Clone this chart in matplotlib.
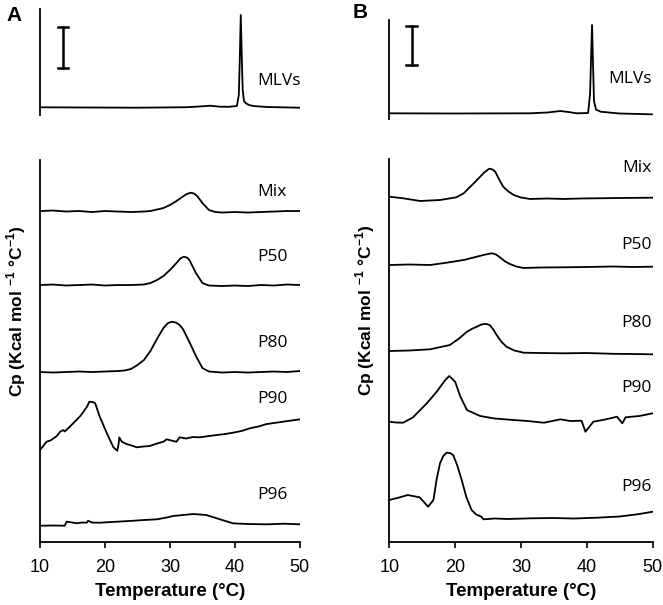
import matplotlib.pyplot as plt

plt.rcParams['font.family'] = ['Liberation Sans', 'DejaVu Sans']
plt.rcParams['mathtext.fontset'] = 'custom'
plt.rcParams['mathtext.bf'] = 'Liberation Sans:bold'
plt.rcParams['mathtext.rm'] = 'Liberation Sans'

# ---- Panel A traces (temperature in C, Cp in arbitrary offset units) ----
a_mlv_t = [10, 14, 18, 22, 24.4, 28, 32.6, 34.5, 36.2, 37.7, 39, 40.3, 40.6, 40.75, 40.9, 41.05, 41.2, 41.4, 41.7, 42.2, 42.8, 45, 50]
a_mlv_cp = [7.7, 7.6, 7.5, 7.4, 7.3, 7.5, 7.8, 8.5, 9.3, 8.3, 8.2, 9, 20, 55, 100, 60, 25, 14, 11.7, 10, 9, 8, 7.3]

a_mix_t = [10, 12, 14, 16, 18, 20, 22, 24, 26, 27, 28, 29, 30, 31, 32, 32.6, 33.2, 33.7, 34.2, 35, 36, 37, 38, 40, 42, 44, 46, 48, 50]
a_mix_cp = [331, 331.5, 330.5, 331, 330, 331, 330.5, 330, 330.5, 331, 332.5, 334, 337, 341, 345.5, 348, 349.3, 348.5, 346, 339, 332, 330, 329.5, 330, 329.5, 330, 330.5, 331, 331]

a_p50_t = [10, 12, 14, 16, 18, 20, 22, 24, 26, 27, 28, 29, 30, 31, 31.6, 32.1, 32.6, 33, 34, 35, 36, 38, 40, 42, 44, 46, 48, 50]
a_p50_cp = [257, 257.5, 256.5, 257, 257.5, 256.5, 257, 257, 257.5, 259, 262, 266, 272, 279, 283.5, 285.3, 284.5, 282, 269, 259, 256.5, 256, 256.5, 256, 257, 256.5, 257.5, 257]

a_p80_t = [10, 12, 14, 16, 18, 20, 22, 23, 24, 25, 26, 27, 28, 29, 29.7, 30.3, 30.9, 31.5, 32, 33, 34, 35, 36, 38, 40, 42, 44, 46, 48, 50]
a_p80_cp = [170, 169.5, 170, 170.5, 170, 170.5, 171, 171.5, 173, 177, 182, 191, 203, 214, 219, 220.3, 219.5, 217, 213, 200, 186, 174, 170.5, 169.5, 170, 169.5, 170, 170.5, 170, 171]

a_p90_t = [10, 10.5, 11, 11.6, 12.1, 12.6, 13.1, 13.6, 13.8, 14.6, 15.6, 16.2, 16.7, 17.2, 17.6, 18.1, 18.5, 19.2, 20.3, 21.3, 21.9, 22.1, 22.2, 22.6, 23.3, 24.1, 24.9, 25.9, 26.9, 28, 29, 29.5, 30.2, 31, 31.5, 32.5, 33.5, 34.6, 36, 37.2, 38.5, 39.7, 41, 42.3, 43.6, 44.9, 46, 47.4, 48.7, 50]
a_p90_cp = [92, 96, 100.3, 101.5, 103.7, 106, 110.3, 112, 110.5, 115.3, 122, 126, 130.3, 135, 140.3, 140, 138.7, 125.3, 108.7, 94.7, 91.3, 98, 104.7, 100.3, 98, 96.5, 94.7, 95.5, 96, 98.5, 100.3, 102.7, 101.5, 100.3, 104.7, 103.5, 105, 104.7, 106, 107, 108, 109.3, 111, 113.7, 115.5, 118, 119, 120.3, 121.5, 122.7]

a_p96_t = [10, 12, 13.8, 14.1, 15, 15.6, 16.5, 17.2, 17.4, 18, 19.2, 21, 24.4, 26, 28, 29.5, 30.5, 32, 33.6, 35.6, 37.7, 39.7, 42, 44.9, 47.5, 50]
a_p96_cp = [16.3, 16.5, 16.3, 20.3, 19.5, 18.7, 19.5, 19.3, 21.3, 19.5, 19.3, 20, 21.3, 22, 22.7, 24.5, 26, 27, 28, 27, 22.7, 18.7, 18, 17.7, 18.3, 17.7]

# ---- Panel B traces ----
b_mlv_t = [10, 15, 20, 25, 31.4, 34, 36, 37.2, 38.5, 40.2, 40.5, 40.65, 40.8, 40.95, 41.1, 41.4, 42.1, 45, 49.9]
b_mlv_cp = [5.7, 5.6, 5.5, 5.6, 5.7, 6.5, 8, 7, 5.7, 6, 25, 60, 94, 55, 18, 9.5, 7.3, 5.5, 4.7]

b_mix_t = [10, 12.1, 14.7, 17.7, 20.2, 21.3, 22.3, 23.1, 23.8, 24.5, 25.2, 25.7, 26.1, 26.6, 27.3, 28.1, 28.9, 30, 31.4, 34, 36.5, 39, 41.5, 45, 50]
b_mix_cp = [345.3, 343.7, 341, 342, 344.7, 348.7, 355.3, 360.5, 365.3, 370, 373.3, 372.5, 370.3, 363.7, 355.3, 350.5, 347, 344.5, 343, 343.5, 343, 343.5, 343.7, 344, 344.3]

b_p50_t = [10, 13, 16.2, 18.7, 21.3, 23.3, 24.3, 25, 25.6, 26.2, 26.8, 27.5, 28.3, 29.3, 30.4, 33, 36.5, 40, 44, 47, 50]
b_p50_cp = [277, 277.5, 277, 279.3, 282, 285.3, 287, 288, 288.7, 287.5, 284.7, 281, 278, 275.5, 274, 274.5, 274.7, 275, 275.5, 275, 275.3]

b_p80_t = [10, 13, 16.2, 19.2, 20.5, 21.8, 22.6, 23.3, 23.8, 24.3, 24.8, 25.3, 25.8, 26.3, 27, 27.8, 29, 30.4, 33, 36.5, 40, 44, 47, 50]
b_p80_cp = [191, 191.5, 192.7, 197, 203, 210.3, 213.3, 215.3, 217, 218, 218, 216.7, 212.5, 207, 200.5, 195.3, 191.5, 189.3, 189, 188.7, 189, 188.2, 188, 187.7]

b_p90_t = [10, 11, 12.1, 13.6, 15.7, 17.2, 18.5, 19.1, 20, 20.8, 21.8, 23.8, 26, 28.9, 31, 33.5, 36, 37.5, 39.2, 39.8, 41, 42.8, 44.6, 45.4, 45.9, 48, 50]
b_p90_cp = [120.3, 119.5, 119.3, 124.7, 138.7, 150.3, 162, 166, 160.3, 145.3, 132, 126, 123.5, 122, 121, 119.3, 122.7, 121, 121.3, 110.3, 120.3, 122.5, 125.3, 118.7, 124.7, 126, 128.7]

b_p96_t = [10, 11.5, 12.8, 14.6, 15.9, 16.7, 17.2, 17.7, 18.2, 18.7, 19.2, 19.7, 20.3, 21, 21.7, 22.5, 23.2, 24, 24.3, 26, 28, 31.4, 35, 38, 41.5, 45, 48, 50]
b_p96_cp = [42, 44.5, 47, 44.7, 35.3, 42, 63, 78.7, 86, 89.3, 89, 87, 77, 62, 45, 32, 27.5, 25.3, 22.7, 23.5, 23, 23.7, 24, 23.5, 24.3, 25.5, 28, 30.3]

names = ['Mix', 'P50', 'P80', 'P90', 'P96']
a_label_cp = [350, 285, 199, 143, 47]
b_label_cp = [374, 297, 219, 154, 55]

lw = 1.3
lab_fs = 12.5

fig = plt.figure(figsize=(6.63, 6.05), dpi=100)

ax_a_top = fig.add_axes([0.0603, 0.8099, 0.392, 0.1752])
ax_a = fig.add_axes([0.0603, 0.1041, 0.392, 0.6314])
ax_b_top = fig.add_axes([0.5872, 0.8033, 0.3971, 0.1636])
ax_b = fig.add_axes([0.5872, 0.1041, 0.3971, 0.6331])

# top (MLVs) panels
for ax, t, cp, top, bar_t, bar_lo, bar_hi in [
        (ax_a_top, a_mlv_t, a_mlv_cp, 106, 13.5, 47, 88),
        (ax_b_top, b_mlv_t, b_mlv_cp, 99, 13.4, 54, 93)]:
    ax.plot(t, cp, color='black', lw=lw)
    ax.plot([bar_t, bar_t], [bar_lo, bar_hi], color='black', lw=1.8)
    ax.plot([bar_t - 0.8, bar_t + 0.8], [bar_lo, bar_lo], color='black', lw=1.8)
    ax.plot([bar_t - 0.8, bar_t + 0.8], [bar_hi, bar_hi], color='black', lw=1.8)
    ax.set_xlim(10, 50)
    ax.set_ylim(0, top)
    for s in ['top', 'right', 'bottom']:
        ax.spines[s].set_visible(False)
    ax.spines['left'].set_linewidth(1.3)
    ax.set_xticks([])
    ax.set_yticks([])

ax_a_top.text(43.5, 34, 'MLVs', fontsize=lab_fs, family='Open Sans', ha='left', va='center')
ax_b_top.text(49.9, 40, 'MLVs', fontsize=lab_fs, family='Open Sans', ha='right', va='center')

# bottom panels
a_traces = [(a_mix_t, a_mix_cp), (a_p50_t, a_p50_cp), (a_p80_t, a_p80_cp), (a_p90_t, a_p90_cp), (a_p96_t, a_p96_cp)]
b_traces = [(b_mix_t, b_mix_cp), (b_p50_t, b_p50_cp), (b_p80_t, b_p80_cp), (b_p90_t, b_p90_cp), (b_p96_t, b_p96_cp)]

for t, cp in a_traces:
    ax_a.plot(t, cp, color='black', lw=lw)
for t, cp in b_traces:
    ax_b.plot(t, cp, color='black', lw=lw)

for name, y in zip(names, a_label_cp):
    ax_a.text(43.5, y, name, fontsize=lab_fs, family='Open Sans', ha='left', va='center')
for name, y in zip(names, b_label_cp):
    ax_b.text(49.8, y, name, fontsize=lab_fs, family='Open Sans', ha='right', va='center')

for ax, top in [(ax_a, 382), (ax_b, 383)]:
    ax.set_xlim(10, 50)
    ax.set_ylim(0, top)
    ax.set_xticks([10, 20, 30, 40, 50])
    ax.set_yticks([])
    ax.tick_params(axis='x', direction='out', length=4, width=1.2, labelsize=13, pad=8)
    for s in ['top', 'right']:
        ax.spines[s].set_visible(False)
    ax.spines['left'].set_linewidth(1.3)
    ax.spines['bottom'].set_linewidth(1.3)
    ax.set_xlabel('Temperature (°C)', fontsize=13.5, fontweight='bold', labelpad=5)
    ax.set_ylabel(r'Cp (Kcal mol $^{\mathbf{-1}}$ °C$^{\mathbf{-1}}$)', fontsize=12.5, fontweight='bold')
    ax.yaxis.set_label_coords(-0.045, 0.605)

fig.text(0.021, 0.975, 'A', fontsize=15, fontweight='bold', ha='center', va='center')
fig.text(0.543, 0.98, 'B', fontsize=15, fontweight='bold', ha='center', va='center')

plt.savefig('out.png', dpi=100)
